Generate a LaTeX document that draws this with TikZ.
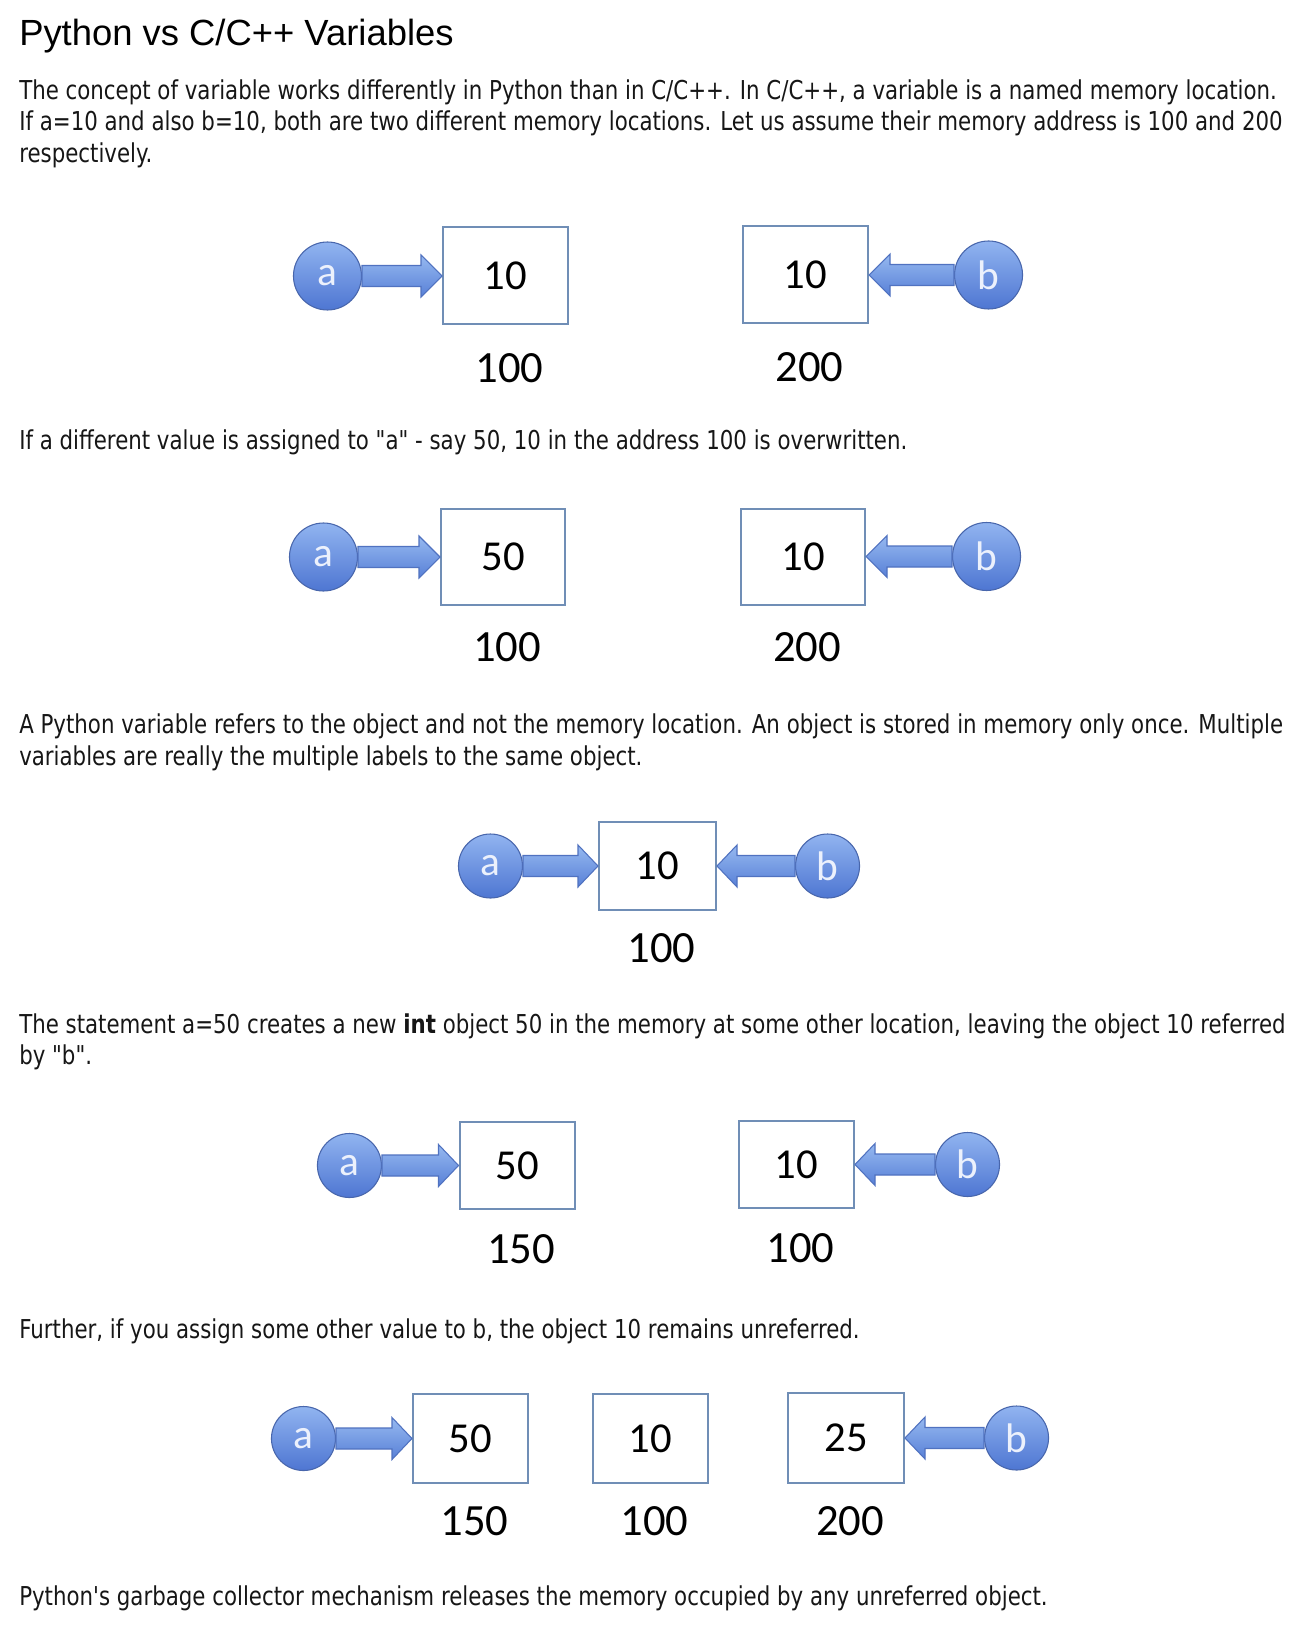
\documentclass[tikz,border=0pt]{standalone}
\usepackage{fontspec}
\usetikzlibrary{positioning, calc}
\newfontfamily\bodyfont[FakeStretch=0.82]{DejaVu Sans}
\newfontfamily\headfont{Liberation Sans}
\newfontfamily\cellfont{Carlito}
\definecolor{cellline}{RGB}{112,142,182}
\definecolor{balltop}{RGB}{145,180,240}
\definecolor{ballbot}{RGB}{78,118,210}
\definecolor{ballline}{RGB}{72,102,172}
\definecolor{balltext}{RGB}{236,241,252}
\definecolor{arrowtop}{RGB}{150,185,240}
\definecolor{arrowbot}{RGB}{88,128,215}
\definecolor{arrowline}{RGB}{80,114,192}
\definecolor{bodytext}{RGB}{22,22,22}

% block arrow: #1 start anchor, #2 tip anchor, #3 back of the head (-21 right, 21 left)
\newcommand{\fatarrow}[3]{%
  \draw[blockarrow] ($(#1)+(0,-10.5)$) -- ($(#2)+(#3,-10.5)$) -- ($(#2)+(#3,-21)$)
    -- (#2) -- ($(#2)+(#3,21)$) -- ($(#2)+(#3,10.5)$) -- ($(#1)+(0,10.5)$) -- cycle;}

\tikzset{
  cell/.style={draw=cellline, line width=1.5pt, fill=white, inner sep=0pt,
    minimum width=93.75pt, minimum height=72.75pt, font=\cellfont\fontsize{32}{32}\selectfont},
  smallcell/.style={cell, minimum width=86.25pt, minimum height=66pt},
  ball/.style={circle, draw=ballline, line width=0.8pt, top color=balltop, bottom color=ballbot,
    minimum size=51pt, inner sep=0pt, text=balltext, font=\cellfont\fontsize{31}{31}\selectfont},
  smallball/.style={ball, minimum size=48pt},
  addr/.style={inner sep=0pt, xshift=3pt, font=\cellfont\fontsize{33.5}{33.5}\selectfont},
  blockarrow/.style={draw=arrowline, line width=0.8pt, top color=arrowtop, bottom color=arrowbot},
  para/.style={anchor=base west, inner sep=0pt, text=bodytext, font=\bodyfont\fontsize{19.5}{24}\selectfont},
  heading/.style={anchor=base west, inner sep=0pt, text=black, font=\headfont\fontsize{27.3}{30}\selectfont}
}

\begin{document}
\begin{tikzpicture}[x=0.75pt, y=-0.75pt]
  \useasboundingbox (0,0) rectangle (1312,1626);
  \fill[white] (0,0) rectangle (1312,1626);

  \node[heading] (head) at (19,46) {Python vs C/C++ Variables};
  \node[para] (p1) at (19,100) {The concept of variable works differently in Python than in C/C++. In C/C++, a variable is a named memory location.};
  \node[para] (p2) at (19,131) {If a=10 and also b=10, both are two different memory locations. Let us assume their memory address is 100 and 200};
  \node[para] (p3) at (19,163) {respectively.};

  % a=10, b=10 in C
  \node[cell] (c1) at (505.5,276) {10};
  \node[cell] (c2) at (805.5,275) {10};
  \node[ball, left=60pt of c1] (a1) {a};
  \node[ball, right=63.75pt of c2] (b1) {b};
  \node[addr, below=20.5pt of c1] (m1) {100};
  \node[addr, below=20.5pt of c2] (m2) {200};
  \fatarrow{a1.east}{c1.west}{-21}
  \fatarrow{b1.west}{c2.east}{21}

  \node[para] (p4) at (19,449) {If a different value is assigned to "a" - say 50, 10 in the address 100 is overwritten.};

  % a=50 overwrites
  \node[cell, minimum width=93pt, minimum height=72pt] (c3) at (503,557) {50};
  \node[cell, minimum width=93pt, minimum height=72pt] (c4) at (803,556.5) {10};
  \node[ball, left=61.5pt of c3] (a2) {a};
  \node[ball, right=64.5pt of c4] (b2) {b};
  \node[addr, below=20pt of c3] (m3) {100};
  \node[addr, below=20pt of c4] (m4) {200};
  \fatarrow{a2.east}{c3.west}{-21}
  \fatarrow{b2.west}{c4.east}{21}

  \node[para] (p5) at (19,733) {A Python variable refers to the object and not the memory location. An object is stored in memory only once. Multiple};
  \node[para] (p6) at (19,765) {variables are really the multiple labels to the same object.};

  % one object, two labels
  \node[smallcell, minimum width=87.75pt] (c5) at (657.5,866) {10};
  \node[smallball, left=56.25pt of c5] (a3) {a};
  \node[smallball, right=58.5pt of c5] (b3) {b};
  \node[addr, below=17pt of c5] (m5) {100};
  \fatarrow{a3.east}{c5.west}{-20}
  \fatarrow{b3.west}{c5.east}{20}

  \node[para] (p7) at (19,1033) {The statement a=50 creates a new \textbf{int} object 50 in the memory at some other location, leaving the object 10 referred};
  \node[para] (p8) at (19,1064) {by "b".};

  % a=50 in Python
  \node[smallcell, minimum height=65.25pt] (c6) at (517,1165.5) {50};
  \node[smallcell, minimum height=65.25pt] (c7) at (796.5,1164.5) {10};
  \node[smallball, left=57.4pt of c6] (a4) {a};
  \node[smallball, right=60pt of c7] (b4) {b};
  \node[addr, below=18pt of c6] (m6) {150};
  \node[addr, below=18pt of c7] (m7) {100};
  \fatarrow{a4.east}{c6.west}{-20}
  \fatarrow{b4.west}{c7.east}{20}

  \node[para] (p9) at (19,1338) {Further, if you assign some other value to b, the object 10 remains unreferred.};

  % b=25, 10 left unreferred
  \node[smallcell, minimum height=66.75pt] (c8) at (470.5,1438.5) {50};
  \node[smallcell, minimum height=66.75pt] (c9) at (650.5,1438.5) {10};
  \node[smallcell, minimum width=87pt, minimum height=67.5pt] (c10) at (846,1438) {25};
  \node[smallball, left=57pt of c8] (a5) {a};
  \node[smallball, right=59.25pt of c10] (b5) {b};
  \node[addr, below=17pt of c8] (m8) {150};
  \node[addr, below=17pt of c9] (m9) {100};
  \node[addr, below=17pt of c10] (m10) {200};
  \fatarrow{a5.east}{c8.west}{-20}
  \fatarrow{b5.west}{c10.east}{20}

  \node[para] (p10) at (19,1605) {Python's garbage collector mechanism releases the memory occupied by any unreferred object.};
\end{tikzpicture}
\end{document}
